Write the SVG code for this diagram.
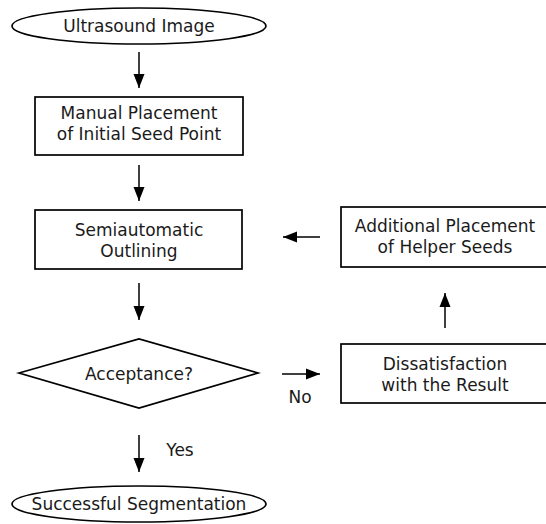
<svg xmlns="http://www.w3.org/2000/svg" width="546" height="524" viewBox="0 0 546 524">
<defs>
<marker id="ah" markerWidth="14" markerHeight="12" refX="14" refY="6" orient="auto" markerUnits="userSpaceOnUse">
<path d="M0,0.5 L14,6 L0,11.5 Z" fill="#000"/>
</marker>
<style>
.n{fill:#fff;stroke:#000;stroke-width:1.7}
.t{font-family:"DejaVu Sans",Verdana,sans-serif;font-size:17px;fill:#1a1a1a;text-anchor:middle}
.c{stroke:#000;stroke-width:1.5;fill:none;marker-end:url(#ah)}
</style>
</defs>
<rect width="546" height="524" fill="#fff"/>
<g id="connectors">
<line class="c" x1="139" y1="52" x2="139" y2="88"/>
<line class="c" x1="139" y1="165" x2="139" y2="201"/>
<line class="c" x1="139" y1="283" x2="139" y2="320"/>
<line class="c" x1="139" y1="435" x2="139" y2="472"/>
<line class="c" x1="282" y1="374" x2="320" y2="374"/>
<line class="c" x1="445" y1="328" x2="445" y2="293"/>
<line class="c" x1="320" y1="237" x2="283" y2="237"/>
<text class="t" x="180" y="456">Yes</text>
<text class="t" x="300" y="403">No</text>
</g>
<g id="start">
<ellipse class="n" cx="139" cy="26" rx="127" ry="18"/>
<text class="t" x="139" y="32">Ultrasound Image</text>
</g>
<g id="manual">
<rect class="n" x="35" y="97" width="208" height="58"/>
<text class="t" x="139" y="119">Manual Placement</text>
<text class="t" x="139" y="140">of Initial Seed Point</text>
</g>
<g id="semi">
<rect class="n" x="35" y="210" width="207" height="59"/>
<text class="t" x="139" y="236">Semiautomatic</text>
<text class="t" x="139" y="257">Outlining</text>
</g>
<g id="accept">
<polygon class="n" points="19,373 139,339 258,373 139,408"/>
<text class="t" x="139" y="380">Acceptance?</text>
</g>
<g id="success">
<ellipse class="n" cx="139" cy="504" rx="127" ry="18"/>
<text class="t" x="139" y="510">Successful Segmentation</text>
</g>
<g id="additional">
<rect class="n" x="341" y="207" width="210" height="60"/>
<text class="t" x="445" y="232">Additional Placement</text>
<text class="t" x="445" y="253">of Helper Seeds</text>
</g>
<g id="dissat">
<rect class="n" x="341" y="344" width="210" height="59"/>
<text class="t" x="445" y="370">Dissatisfaction</text>
<text class="t" x="445" y="391">with the Result</text>
</g>
</svg>
